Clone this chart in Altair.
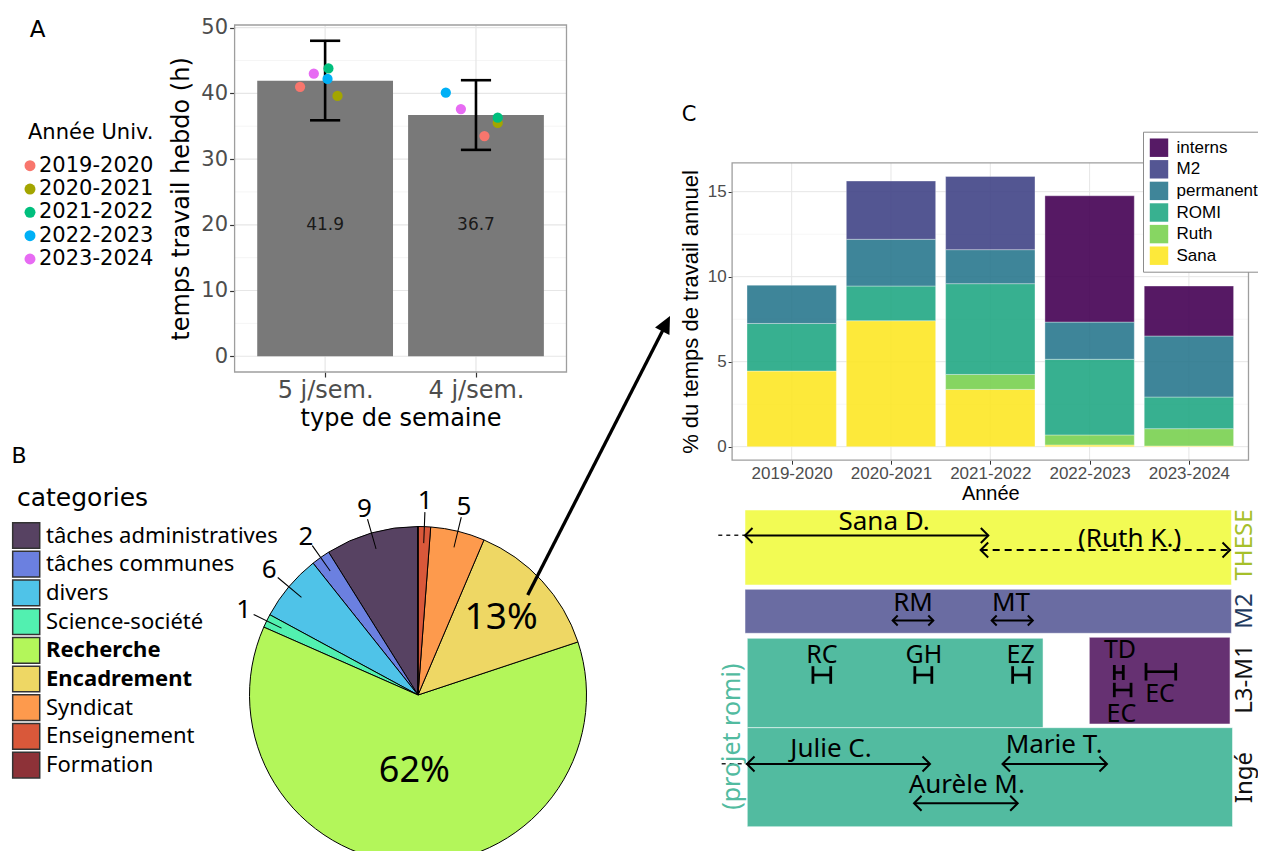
import json
import altair as alt
import pandas as pd

W, H = 1250, 843


def V(p):
    """page pixel -> view pixel (page margin 8px, padding 0)"""
    return p - 8


def jl(lst):
    return json.dumps(lst, ensure_ascii=False)


# ---------------------------------------------------------------- data
# Panel A
semaines = ["5 j/sem.", "4 j/sem."]
moyennes = [41.9, 36.7]
err_bas = [35.9, 31.4]
err_haut = [48.0, 42.0]
annees = ["2019-2020", "2020-2021", "2021-2022", "2022-2023", "2023-2024"]
heures_5j = [41.0, 39.6, 43.8, 42.2, 43.0]
heures_4j = [33.5, 35.5, 36.3, 40.1, 37.6]
jitter_5j = [-0.166, 0.082, 0.022, 0.016, -0.075]
jitter_4j = [0.056, 0.144, 0.144, -0.200, -0.100]
couleurs_annees = ["#F8766D", "#A3A500", "#00BF7D", "#00B0F6", "#E76BF3"]

# Panel B
categories = ["tâches administratives", "tâches communes", "divers", "Science-société",
              "Recherche", "Encadrement", "Syndicat", "Enseignement", "Formation"]
parts = [8.9, 1.8, 6.4, 1.3, 61.7, 13.5, 5.2, 1.2, 0.0]
etiquettes = ["9", "2", "6", "1", "62%", "13%", "5", "1", ""]
categories_gras = ["Recherche", "Encadrement"]
couleurs_cat = ["#574262", "#6b80e0", "#4fc3e8", "#52f0b0", "#b3f65a",
                "#eed764", "#fd9a4d", "#d9583a", "#8d3238"]

# Panel C
groupes = ["interns", "M2", "permanent", "ROMI", "Ruth", "Sana"]
pct_sana = [4.45, 7.41, 3.37, 0.10, 0.04]
pct_ruth = [0.0, 0.0, 0.88, 0.59, 1.02]
pct_romi = [2.80, 2.04, 5.34, 4.45, 1.86]
pct_perm = [2.25, 2.75, 2.00, 2.19, 3.59]
pct_m2 = [0.0, 3.43, 4.31, 0.0, 0.0]
pct_interns = [0.0, 0.0, 0.0, 7.43, 2.94]
viridis = ["#440154", "#414487", "#2A788E", "#22A884", "#7AD151", "#FDE725"]

# Timeline (x in year-index units shared with panel C: 1 = 2019-2020)
blocs = ["THESE", "M2", "L3-M1 romi", "L3-M1 interns", "Ingé"]
bloc_debut = [0.530, 0.530, 0.553, 3.997, 0.553]
bloc_fin = [5.428, 5.428, 3.531, 5.414, 5.439]
couleurs_blocs = ["#f2fb54", "#6a6ca2", "#52bba0", "#663172", "#52bba0"]

personnes = ["Sana D.", "(Ruth K.)", "RM", "MT", "Julie C.", "Marie T.", "Aurèle M."]
pers_debut = [0.530, 2.903, 2.017, 3.014, 0.550, 3.123, 2.232]
pers_fin = [2.980, 5.414, 2.426, 3.428, 2.393, 4.175, 3.276]
pers_style = ["plein", "tirets", "plein", "plein", "plein", "plein", "plein"]
pers_lab_x = [1.930, 4.403, 2.222, 3.208, 1.396, 3.643, 2.763]

avant_debut = [0.261, 0.295]
avant_fin = [0.530, 0.550]

stages = ["RC", "GH", "EZ", "TD", "EC", "EC"]
stage_debut = [1.214, 2.240, 3.225, 4.249, 4.249, 4.568]
stage_fin = [1.393, 2.411, 3.392, 4.339, 4.417, 4.867]
stage_lab_x = [1.304, 2.331, 3.305, 4.306, 4.320, 4.709]

lignes = ["THESE", "M2", "L3-M1", "Ingé"]
couleurs_lignes = ["#a6bf2a", "#1f3a5f", "#111111", "#111111"]

# ---------------------------------------------------------------- layout (timeline rows, px from top)
BLOC_HAUT = [1, 80.3, 129.3, 128.3, 218.7]
BLOC_BAS = [76, 124.3, 218.7, 215, 317.7]
PERS_Y = [26.5, 41, 111.5, 111.5, 255, 255, 294.3]
PERS_LAB_Y = [21, 38.3, 101.7, 101.7, 248, 244.3, 284.3]
PERS_HEAD = [225, 225, 100, 100, 225, 225, 225]
AVANT_Y = [26.3, 254.7]
STAGE_Y = [166, 166, 166, 163.5, 181, 162.7]
STAGE_HH = [8.8, 8.8, 8.8, 7.5, 7.2, 8.8]
STAGE_LAB_Y = [154.3, 154.3, 154.3, 149.3, 212.7, 192.7]
LIGNE_Y = [36, 102, 170, 268.5]

GRID_MAJ = "#e6e6e6"
GRID_MIN = "#f3f3f3"
BORDER = "#9e9e9e"


def hgrid(values, xdom, xs, ys, axx, axy, color, width):
    df = pd.DataFrame({"v": values})
    return alt.Chart(df).transform_calculate(x0=str(xdom[0]), x1=str(xdom[1])).mark_rule(
        color=color, strokeWidth=width).encode(
        x=alt.X("x0:Q", scale=xs, axis=axx), x2="x1:Q",
        y=alt.Y("v:Q", scale=ys, axis=axy))


def vgrid(values, ydom, xs, ys, axx, axy, color, width):
    df = pd.DataFrame({"v": values})
    return alt.Chart(df).transform_calculate(y0=str(ydom[0]), y1=str(ydom[1])).mark_rule(
        color=color, strokeWidth=width).encode(
        x=alt.X("v:Q", scale=xs, axis=axx),
        y=alt.Y("y0:Q", scale=ys, axis=axy), y2="y1:Q")


def border(xdom, ydom, xs, ys, axx, axy):
    df = pd.DataFrame({"x0": [xdom[0]], "x1": [xdom[1]], "y0": [ydom[0]], "y1": [ydom[1]]})
    return alt.Chart(df).mark_rect(filled=False, stroke=BORDER, strokeWidth=1.3).encode(
        x=alt.X("x0:Q", scale=xs, axis=axx), x2="x1:Q",
        y=alt.Y("y0:Q", scale=ys, axis=axy), y2="y1:Q")


def fixed_text(t, px, py, size, font="DejaVu Sans", align="center", weight="normal"):
    return alt.Chart(pd.DataFrame({"t": [t]})).mark_text(
        font=font, fontSize=size, color="black", align=align, baseline="middle",
        fontWeight=weight).encode(text="t:N", x=alt.value(V(px)), y=alt.value(V(py)))


# ================================================================ PANEL A
xdomA, ydomA = [0.4, 2.6], [-2.4, 50.4]
xA = alt.Scale(domain=xdomA, range=[V(234.6), V(566.5)], nice=False, zero=False)
yA = alt.Scale(domain=ydomA, range=[V(372), V(25)], nice=False, zero=False)
axA_x = alt.Axis(orient="bottom", offset=V(372) - H, values=[1, 2],
                 labelExpr=f"{jl(semaines)}[datum.value - 1]",
                 title="type de semaine", grid=False, domain=False, labelFlush=False,
                 tickSize=5, tickColor="#333333", tickWidth=1.2,
                 labelFont="DejaVu Sans", labelFontSize=24, labelColor="#4d4d4d", labelPadding=1,
                 titleFont="DejaVu Sans", titleFontSize=24, titleFontWeight="normal",
                 titleColor="black", titlePadding=4)
axA_y = alt.Axis(orient="left", offset=-V(234.6), values=[0, 10, 20, 30, 40, 50],
                 title="temps travail hebdo (h)", grid=False, domain=False, labelFlush=False,
                 tickSize=5, tickColor="#333333", tickWidth=1.2,
                 labelFont="DejaVu Sans", labelFontSize=21, labelColor="#4d4d4d", labelPadding=2,
                 titleFont="DejaVu Sans", titleFontSize=24, titleFontWeight="normal",
                 titleColor="black", titlePadding=7)
colA = alt.Scale(domain=annees, range=couleurs_annees)

dfA = pd.DataFrame({"semaine": semaines, "idx": [1, 2], "moy": moyennes,
                    "lo": err_bas, "hi": err_haut})
dfA_pts = pd.DataFrame({"annee": annees * 2, "h": heures_5j + heures_4j,
                        "jit": jitter_5j + jitter_4j, "idx": [1] * 5 + [2] * 5})

baseA = alt.Chart(dfA)
barsA = baseA.transform_calculate(x0="datum.idx - 0.45", x1="datum.idx + 0.45", z="0").mark_rect(
    color="#797979").encode(
    x=alt.X("x0:Q", scale=xA, axis=axA_x), x2="x1:Q",
    y=alt.Y("z:Q", scale=yA, axis=axA_y), y2="moy:Q")
textA = baseA.transform_calculate(ty="20").mark_text(
    font="DejaVu Sans", fontSize=17, color="#1a1a1a", baseline="middle").encode(
    x=alt.X("idx:Q", scale=xA, axis=axA_x),
    y=alt.Y("ty:Q", scale=yA, axis=axA_y),
    text=alt.Text("moy:Q", format=".1f"))
errA = baseA.mark_rule(color="black", strokeWidth=2.6).encode(
    x=alt.X("idx:Q", scale=xA, axis=axA_x),
    y=alt.Y("lo:Q", scale=yA, axis=axA_y), y2="hi:Q")
capsA = [baseA.transform_calculate(c0="datum.idx - 0.1", c1="datum.idx + 0.1").mark_rule(
    color="black", strokeWidth=2.6).encode(
    x=alt.X("c0:Q", scale=xA, axis=axA_x), x2="c1:Q",
    y=alt.Y(f"{f}:Q", scale=yA, axis=axA_y)) for f in ("lo", "hi")]
ptsA = alt.Chart(dfA_pts).transform_calculate(px="datum.idx + datum.jit").mark_circle(
    size=105, opacity=1).encode(
    x=alt.X("px:Q", scale=xA, axis=axA_x),
    y=alt.Y("h:Q", scale=yA, axis=axA_y),
    color=alt.Color("annee:N", scale=colA, legend=None))

panelA = alt.layer(
    hgrid([5, 15, 25, 35, 45], xdomA, xA, yA, axA_x, axA_y, GRID_MIN, 0.8),
    hgrid([0, 10, 20, 30, 40, 50], xdomA, xA, yA, axA_x, axA_y, GRID_MAJ, 1.2),
    vgrid([1, 2], ydomA, xA, yA, axA_x, axA_y, GRID_MAJ, 1.2),
    barsA, textA, errA, *capsA, ptsA,
    border(xdomA, ydomA, xA, yA, axA_x, axA_y),
)

# legend of panel A (drawn from the year list through a point scale)
legYA = alt.Scale(type="point", domain=annees, range=[V(165.7), V(259)], padding=0)
dfLegA = pd.DataFrame({"annee": annees})
legendA = alt.layer(
    fixed_text("Année Univ.", 28, 133, 21, align="left"),
    alt.Chart(dfLegA).mark_circle(size=120, opacity=1).encode(
        x=alt.value(V(30)), y=alt.Y("annee:N", scale=legYA, axis=None),
        color=alt.Color("annee:N", scale=colA, legend=None)),
    alt.Chart(dfLegA).mark_text(font="DejaVu Sans", fontSize=21, color="black", align="left",
                                baseline="middle").encode(
        x=alt.value(V(39)), y=alt.Y("annee:N", scale=legYA, axis=None), text="annee:N"),
)

# ================================================================ PANEL B (pie)
CX, CY, R = V(418), V(695), 168.5
thS = alt.Scale(domain=[0, 100], range=[0, 6.283185307179586])
colB = alt.Scale(domain=categories, range=couleurs_cat)
dfB = pd.DataFrame({"cat": categories, "val": parts, "lab": etiquettes,
                    "ordre": list(range(len(categories) - 1, -1, -1))})
baseB = alt.Chart(dfB).transform_window(
    cum="sum(val)", sort=[alt.SortField("ordre")], frame=[None, 0]
).transform_calculate(
    debut="datum.cum - datum.val", mid="datum.cum - datum.val / 2",
    lo="datum.cum - datum.val / 2 - 0.05", hi="datum.cum - datum.val / 2 + 0.05")

arcsB = baseB.mark_arc(radius=R, stroke="black", strokeWidth=1).encode(
    theta=alt.Theta("debut:Q", scale=thS, stack=None), theta2="cum:Q",
    x=alt.value(CX), y=alt.value(CY),
    color=alt.Color("cat:N", scale=colB, legend=None))
leaderB = baseB.transform_filter("datum.val > 0 && datum.val < 10").mark_arc(
    radius=183, radius2=152, color="black").encode(
    theta=alt.Theta("lo:Q", scale=thS, stack=None), theta2="hi:Q",
    x=alt.value(CX), y=alt.value(CY))
smallB = baseB.transform_filter("datum.val > 0 && datum.val < 10").mark_text(
    font="Noto Sans", fontSize=26, color="black", baseline="middle", align="center").encode(
    theta=alt.Theta("mid:Q", scale=thS, stack=None), radius=alt.value(194),
    x=alt.value(CX), y=alt.value(CY), text="lab:N")
bigB1 = baseB.transform_filter("datum.val >= 10 && datum.val < 30").mark_text(
    font="Noto Sans", fontSize=37, color="black", baseline="middle", align="center").encode(
    theta=alt.Theta("mid:Q", scale=thS, stack=None), radius=alt.value(113),
    x=alt.value(CX), y=alt.value(CY), text="lab:N")
bigB2 = baseB.transform_filter("datum.val >= 30").mark_text(
    font="Noto Sans", fontSize=36, color="black", baseline="middle", align="center").encode(
    theta=alt.Theta("mid:Q", scale=thS, stack=None), radius=alt.value(76),
    x=alt.value(CX), y=alt.value(CY), text="lab:N")

panelB = alt.layer(arcsB, leaderB, smallB, bigB1, bigB2)

# legend of panel B (drawn from the category list through a point scale)
legYB = alt.Scale(type="point", domain=categories, range=[V(535.5), V(535.5 + 8 * 28.7)],
                  padding=0)
dfLegB = pd.DataFrame({"cat": categories, "gras": [c in categories_gras for c in categories]})
legendB = alt.layer(
    fixed_text("categories", 17, 498, 25, align="left"),
    alt.Chart(dfLegB).mark_point(
        shape="M-1.04,-0.99L1.04,-0.99L1.04,0.99L-1.04,0.99Z", size=676, filled=True,
        opacity=1, stroke="#333333", strokeWidth=1.5).encode(
        x=alt.value(V(26.2)), y=alt.Y("cat:N", scale=legYB, axis=None),
        fill=alt.Fill("cat:N", scale=colB, legend=None)),
    alt.Chart(dfLegB).transform_filter("!datum.gras").mark_text(
        font="Noto Sans", fontSize=22, color="black", align="left", baseline="middle").encode(
        x=alt.value(V(46)), y=alt.Y("cat:N", scale=legYB, axis=None), text="cat:N"),
    alt.Chart(dfLegB).transform_filter("datum.gras").mark_text(
        font="Noto Sans", fontSize=22, fontWeight="bold", color="black", align="left",
        baseline="middle").encode(
        x=alt.value(V(46)), y=alt.Y("cat:N", scale=legYB, axis=None), text="cat:N"),
)

# ================================================================ PANEL C
xdomC, ydomC = [0.4, 5.6], [-0.795, 16.7]
xC = alt.Scale(domain=xdomC, range=[V(732.1), V(1248.5)], nice=False, zero=False)
yC = alt.Scale(domain=ydomC, range=[V(460.2), V(162.8)], nice=False, zero=False)
axC_x = alt.Axis(orient="bottom", offset=V(460.2) - H, values=[1, 2, 3, 4, 5],
                 labelExpr=f"{jl(annees)}[datum.value - 1]",
                 title="Année", grid=False, domain=False, labelFlush=False,
                 tickSize=4, tickColor="#333333", tickWidth=1,
                 labelFont="Liberation Sans", labelFontSize=17, labelColor="#4d4d4d",
                 labelPadding=1, titleFont="Liberation Sans", titleFontSize=20,
                 titleFontWeight="normal", titleColor="black", titlePadding=2)
axC_y = alt.Axis(orient="left", offset=-V(732.1), values=[0, 5, 10, 15],
                 title="% du temps de travail annuel", grid=False, domain=False,
                 labelFlush=False, tickSize=4, tickColor="#333333", tickWidth=1,
                 labelFont="Liberation Sans", labelFontSize=17, labelColor="#4d4d4d",
                 labelPadding=2, titleFont="Liberation Sans", titleFontSize=22,
                 titleFontWeight="normal", titleColor="black", titlePadding=5)

series = {"Sana": pct_sana, "Ruth": pct_ruth, "ROMI": pct_romi, "permanent": pct_perm,
          "M2": pct_m2, "interns": pct_interns}
ordre_pile = ["Sana", "Ruth", "ROMI", "permanent", "M2", "interns"]
rowsC = []
for g in ordre_pile:
    for i, a in enumerate(annees):
        v = series[g][i]
        if v > 0:
            rowsC.append({"annee": a, "idx": i + 1, "groupe": g, "val": v,
                          "ordre": ordre_pile.index(g)})
dfC = pd.DataFrame(rowsC)

barsC = alt.Chart(dfC).transform_window(
    top="sum(val)", groupby=["annee"], sort=[alt.SortField("ordre")], frame=[None, 0]
).transform_calculate(
    bot="datum.top - datum.val", x0="datum.idx - 0.45", x1="datum.idx + 0.45"
).mark_rect(opacity=0.9, stroke="white", strokeWidth=0.6, strokeOpacity=0.6).encode(
    x=alt.X("x0:Q", scale=xC, axis=axC_x), x2="x1:Q",
    y=alt.Y("bot:Q", scale=yC, axis=axC_y), y2="top:Q",
    color=alt.Color("groupe:N", scale=alt.Scale(domain=groupes, range=viridis), title=None,
                    legend=alt.Legend(orient="none", legendX=V(1143), legendY=V(131.7),
                                      labelFont="Liberation Sans", labelFontSize=17,
                                      labelColor="black", symbolType="square",
                                      symbolSize=340, symbolStrokeWidth=0,
                                      padding=6.5, rowPadding=2.6, labelOffset=8,
                                      strokeColor="#8c8c8c", fillColor="white")))

panelC = alt.layer(
    hgrid([2.5, 7.5, 12.5], xdomC, xC, yC, axC_x, axC_y, GRID_MIN, 0.7),
    hgrid([0, 5, 10, 15], xdomC, xC, yC, axC_x, axC_y, GRID_MAJ, 1.0),
    vgrid([1, 2, 3, 4, 5], ydomC, xC, yC, axC_x, axC_y, GRID_MAJ, 1.0),
    barsC,
    border(xdomC, ydomC, xC, yC, axC_x, axC_y),
)

# ================================================================ TIMELINE
xT = alt.Scale(domain=xdomC, range=[V(732.1), V(1248.5)], nice=False, zero=False)
yT = alt.Scale(domain=[0, 330], range=[V(509), V(839)], nice=False, zero=False)


def X(f):
    return alt.X(f, scale=xT, axis=None)


def Y(f):
    return alt.Y(f, scale=yT, axis=None)


dfBl = pd.DataFrame({"bloc": blocs, "d": bloc_debut, "f": bloc_fin,
                     "haut": BLOC_HAUT, "bas": BLOC_BAS})
blocsT = alt.Chart(dfBl).mark_rect(stroke="white", strokeWidth=1, strokeOpacity=0.5).encode(
    x=X("d:Q"), x2="f:Q", y=Y("haut:Q"), y2="bas:Q",
    color=alt.Color("bloc:N", scale=alt.Scale(domain=blocs, range=couleurs_blocs), legend=None))

dfP = pd.DataFrame({"nom": personnes, "d": pers_debut, "f": pers_fin, "style": pers_style,
                    "lx": pers_lab_x, "ay": PERS_Y, "ly": PERS_LAB_Y, "hs": PERS_HEAD})
baseP = alt.Chart(dfP)
solidT = baseP.transform_filter("datum.style == 'plein'").mark_rule(
    color="black", strokeWidth=2).encode(x=X("d:Q"), x2="f:Q", y=Y("ay:Q"))
dashT = baseP.transform_filter("datum.style == 'tirets'").mark_rule(
    color="black", strokeWidth=2, strokeDash=[7, 5]).encode(x=X("d:Q"), x2="f:Q", y=Y("ay:Q"))
headL = baseP.mark_point(shape="M1,-1L0,0L1,1", filled=False, color="black",
                         strokeWidth=2, opacity=1).encode(
    x=X("d:Q"), y=Y("ay:Q"), size=alt.Size("hs:Q", scale=None))
headR = baseP.mark_point(shape="M-1,-1L0,0L-1,1", filled=False, color="black",
                         strokeWidth=2, opacity=1).encode(
    x=X("f:Q"), y=Y("ay:Q"), size=alt.Size("hs:Q", scale=None))
labP = baseP.mark_text(font="Noto Sans", fontSize=26, color="black", baseline="alphabetic",
                       align="center").encode(x=X("lx:Q"), y=Y("ly:Q"), text="nom:N")

dfAv = pd.DataFrame({"d": avant_debut, "f": avant_fin, "y": AVANT_Y})
avantT = alt.Chart(dfAv).mark_rule(color="#222222", strokeWidth=1.6, strokeDash=[4, 4]).encode(
    x=X("d:Q"), x2="f:Q", y=Y("y:Q"))

dfS = pd.DataFrame({"lab": stages, "d": stage_debut, "f": stage_fin, "lx": stage_lab_x,
                    "my": STAGE_Y, "hh": STAGE_HH, "ly": STAGE_LAB_Y})
baseS = alt.Chart(dfS).transform_calculate(y0="datum.my - datum.hh", y1="datum.my + datum.hh")
stH = baseS.mark_rule(color="black", strokeWidth=2.6).encode(x=X("d:Q"), x2="f:Q", y=Y("my:Q"))
stL = baseS.mark_rule(color="black", strokeWidth=2.8).encode(x=X("d:Q"), y=Y("y0:Q"), y2="y1:Q")
stR = baseS.mark_rule(color="black", strokeWidth=2.8).encode(x=X("f:Q"), y=Y("y0:Q"), y2="y1:Q")
stLab = baseS.mark_text(font="Noto Sans", fontSize=25, color="black", baseline="alphabetic",
                        align="center").encode(x=X("lx:Q"), y=Y("ly:Q"), text="lab:N")

rowLabs = []
for i, (lg, col) in enumerate(zip(lignes, couleurs_lignes)):
    d = pd.DataFrame({"t": [lg], "x": [5.567], "y": [LIGNE_Y[i]]})
    rowLabs.append(alt.Chart(d).mark_text(font="Noto Sans", fontSize=24, color=col, angle=270,
                                          align="center", baseline="middle").encode(
        x=X("x:Q"), y=Y("y:Q"), text="t:N"))
dfRomi = pd.DataFrame({"t": ["(projet romi)"], "x": [0.404], "y": [227.7]})
romiLab = alt.Chart(dfRomi).mark_text(font="Noto Sans", fontSize=25, color="#52bba0", angle=270,
                                      align="center", baseline="middle").encode(
    x=X("x:Q"), y=Y("y:Q"), text="t:N")

panelT = alt.layer(blocsT, avantT, solidT, dashT, headL, headR, labP,
                   stH, stL, stR, stLab, *rowLabs, romiLab)

# ================================================================ annotations
arrow_df = pd.DataFrame({"a": [0]})
arrow = alt.Chart(arrow_df).mark_rule(color="black", strokeWidth=3.3).encode(
    x=alt.value(V(527.7)), y=alt.value(V(595)), x2=alt.value(V(664)), y2=alt.value(V(328)))
arrow_head = alt.Chart(arrow_df).mark_point(
    shape="M0,0L0.85,1.8L-0.85,1.8Z", filled=True, color="black", size=361, angle=27,
    opacity=1).encode(x=alt.value(V(670)), y=alt.value(V(316)))

annot = alt.layer(fixed_text("A", 37.5, 30, 23), fixed_text("B", 19, 456, 22),
                  fixed_text("C", 689, 115, 21), arrow, arrow_head)

chart = alt.layer(panelA, legendA, panelB, legendB, panelC, panelT, annot).resolve_scale(
    x="independent", y="independent", color="independent", fill="independent",
    theta="independent"
).resolve_axis(x="independent", y="independent").properties(
    width=W, height=H, padding=0, background="white",
    autosize=alt.AutoSizeParams(type="none")
).configure_view(strokeWidth=0)

chart.save("out.html", embed_options={"renderer": "svg", "actions": False})
